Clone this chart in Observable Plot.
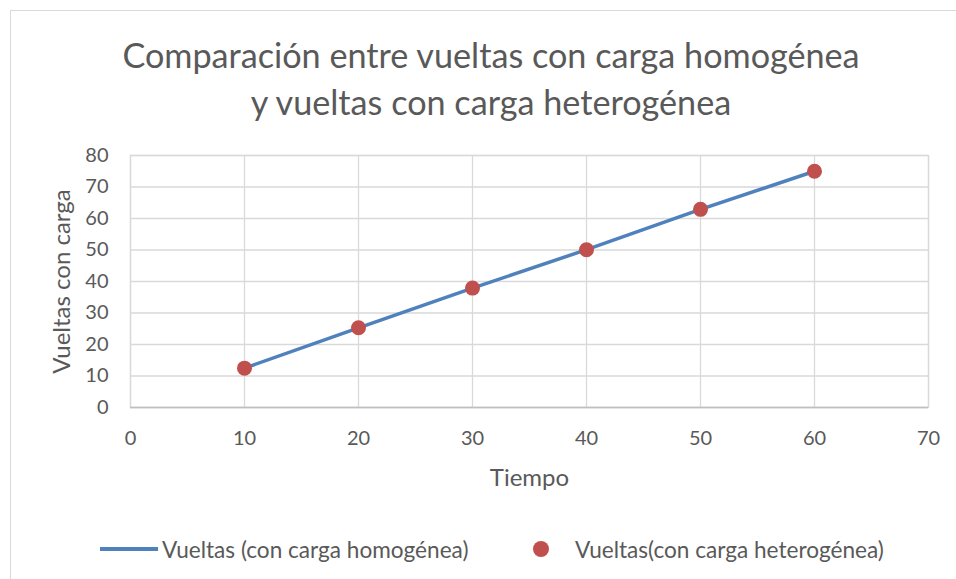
<!DOCTYPE html>
<html>
<head>
<meta charset="utf-8">
<script src="https://cdn.jsdelivr.net/npm/d3@7"></script>
<script src="https://cdn.jsdelivr.net/npm/@observablehq/plot@0.6"></script>
<style>
  html, body { margin: 0; padding: 0; background: #fff; }
  #wrap { position: relative; width: 956px; height: 579px; overflow: hidden; font-family: Lato, "Open Sans", sans-serif; }
  #frame { position: absolute; left: 10px; top: 10px; width: 960px; height: 580px; border-left: 1px solid #d9d9d9; border-top: 1px solid #d9d9d9; }
  #title { position: absolute; left: 0; top: 31px; width: 982px; text-align: center; color: #595959; font-size: 34.2px; line-height: 47px; }
  #chart { position: absolute; left: 0; top: 0; }
  #legend { position: absolute; top: 536px; left: 100px; font-size: 22.6px; color: #595959; white-space: nowrap; }
  .li { position: absolute; top: 0; display: flex; align-items: center; height: 26px; }
  .sw-line { width: 58px; height: 4px; background: #4F81BD; margin-right: 4px; }
  .sw-dot { width: 16px; height: 16px; border-radius: 50%; background: #C0504D; margin-right: 26px; }
</style>
</head>
<body>
<div id="wrap">
  <div id="frame"></div>
  <div id="chart"></div>
  <div id="title">Comparación entre vueltas con carga homogénea<br>y vueltas con carga heterogénea</div>
  <div id="legend"></div>
</div>
<script>
const tiempo = [10, 20, 30, 40, 50, 60];
const homogenea = [12.5, 25.3, 37.9, 50.1, 62.9, 75.0];
const heterogenea = [12.5, 25.3, 37.9, 50.1, 62.9, 75.0];
const xTicks = [0, 10, 20, 30, 40, 50, 60, 70];
const yTicks = [0, 10, 20, 30, 40, 50, 60, 70, 80];
const seriesNames = ["Vueltas (con carga homogénea)", "Vueltas(con carga heterogénea)"];
const xLabel = "Tiempo";
const yLabel = "Vueltas con carga";

const lineData = tiempo.map((t, i) => ({x: t, y: homogenea[i]}));
const dotData = tiempo.map((t, i) => ({x: t, y: heterogenea[i]}));

const chart = Plot.plot({
  width: 956,
  height: 579,
  marginLeft: 130,
  marginRight: 28,
  marginTop: 155,
  marginBottom: 172,
  style: { fontFamily: "Lato, 'Open Sans', sans-serif", fontSize: "20px", color: "#595959", background: "transparent", overflow: "visible" },
  x: { domain: [0, 70] },
  y: { domain: [0, 80] },
  marks: [
    Plot.gridX(xTicks, { stroke: "#d9d9d9", strokeOpacity: 1, strokeWidth: 1.3 }),
    Plot.gridY(yTicks, { stroke: "#d9d9d9", strokeOpacity: 1, strokeWidth: 1.3 }),
    Plot.frame({ stroke: "#d9d9d9", strokeWidth: 1.3 }),
    Plot.ruleY([0], { stroke: "#bfbfbf", strokeWidth: 1.5 }),
    Plot.axisX(xTicks, { tickSize: 0, tickPadding: 23, fontSize: 20, label: null }),
    Plot.axisY(yTicks, { tickSize: 0, tickPadding: 22, fontSize: 20, label: null }),
    Plot.text([xLabel], { frameAnchor: "bottom", dy: 78, fontSize: 24, fill: "#595959" }),
    Plot.text([yLabel], { frameAnchor: "left", dx: -68, rotate: -90, textAnchor: "middle", fontSize: 24, fill: "#595959" }),
    Plot.line(lineData, { x: "x", y: "y", stroke: "#4F81BD", strokeWidth: 3.5 }),
    Plot.dot(dotData, { x: "x", y: "y", r: 7.5, fill: "#C0504D", stroke: "none" })
  ]
});
document.getElementById("chart").appendChild(chart);

const legend = document.getElementById("legend");
legend.innerHTML =
  `<div class="li" style="left:0px"><span class="sw-line"></span><span>${seriesNames[0]}</span></div>` +
  `<div class="li" style="left:433px"><span class="sw-dot"></span><span>${seriesNames[1]}</span></div>`;
</script>
</body>
</html>
